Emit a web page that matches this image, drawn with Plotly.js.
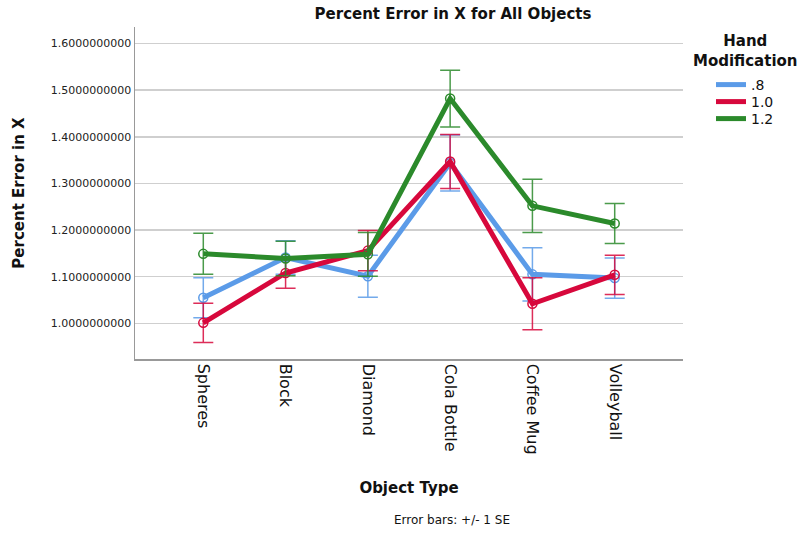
<!DOCTYPE html>
<html>
<head>
<meta charset="utf-8">
<script src="https://cdn.plot.ly/plotly-3.0.1.min.js"></script>
<style>
  html, body { margin: 0; padding: 0; background: #fff; }
  #chart { width: 801px; height: 533px; }
</style>
</head>
<body>
<div id="chart"></div>
<script>
// Object types on the x axis
const categories = ['Spheres', 'Block', 'Diamond', 'Cola Bottle', 'Coffee Mug', 'Volleyball'];

// Mean percent error in X and its standard error, per hand modification level
const mean08 = [1.055, 1.141, 1.101, 1.344, 1.105, 1.097];
const se08   = [0.043, 0.036, 0.045, 0.060, 0.057, 0.043];
const mean10 = [1.001, 1.108, 1.156, 1.347, 1.042, 1.104];
const se10   = [0.042, 0.033, 0.043, 0.058, 0.056, 0.042];
const mean12 = [1.149, 1.139, 1.148, 1.482, 1.252, 1.214];
const se12   = [0.044, 0.037, 0.047, 0.061, 0.057, 0.043];

const seriesNames = ['.8', '1.0', '1.2'];
const yTicks = [1.0, 1.1, 1.2, 1.3, 1.4, 1.5, 1.6];

const FONT = 'DejaVu Sans, Verdana, sans-serif';
const colors = ['#5b9be8', '#d7083c', '#2b8a2b'];
const barColors = ['rgba(91,155,232,0.85)', 'rgba(215,8,60,0.85)', 'rgba(43,138,43,0.85)'];
const legendIds = ['legend', 'legend2', 'legend3'];

// Each series: a thick line (shown in its own legend row) plus open markers with SE bars
function makeTraces(name, means, errs, i) {
  return [
    {
      type: 'scatter',
      mode: 'lines',
      name: name,
      legend: legendIds[i],
      x: categories,
      y: means,
      line: { color: colors[i], width: 5 },
      hoverinfo: 'skip'
    },
    {
      type: 'scatter',
      mode: 'markers',
      name: name,
      showlegend: false,
      x: categories,
      y: means,
      marker: { symbol: 'circle-open', size: 9, color: colors[i], line: { width: 1.5, color: colors[i] } },
      error_y: { type: 'data', array: errs, visible: true, color: barColors[i], thickness: 1.5, width: 10 }
    }
  ];
}

const data = [].concat(
  makeTraces(seriesNames[0], mean08, se08, 0),
  makeTraces(seriesNames[1], mean10, se10, 1),
  makeTraces(seriesNames[2], mean12, se12, 2)
);

function legendRow(yPx) {
  return {
    xref: 'container', x: 711 / 801, xanchor: 'left',
    yref: 'container', y: 1 - yPx / 533, yanchor: 'middle',
    font: { family: FONT, size: 14, color: '#111' },
    itemwidth: 30,
    bgcolor: 'rgba(0,0,0,0)',
    borderwidth: 0
  };
}

const layout = {
  width: 801,
  height: 533,
  paper_bgcolor: '#fff',
  plot_bgcolor: '#fff',
  margin: { l: 135, r: 118, t: 27, b: 174, autoexpand: false },
  font: { family: FONT, color: '#111' },
  title: {
    text: '<b>Percent Error in X for All Objects</b>',
    font: { family: FONT, size: 15, color: '#111' },
    xref: 'container', x: 453 / 801, xanchor: 'center',
    yref: 'container', y: 1 - 14 / 533, yanchor: 'middle'
  },
  xaxis: {
    type: 'category',
    range: [-0.83, 5.83],
    tickangle: 90,
    tickfont: { family: FONT, size: 16, color: '#111' },
    showgrid: false,
    zeroline: false,
    showline: true,
    linecolor: '#999',
    linewidth: 1.5,
    ticks: '',
    automargin: false,
    title: { text: '<b>Object Type</b>', font: { family: FONT, size: 15, color: '#111' }, standoff: 29 }
  },
  yaxis: {
    range: [0.9235, 1.6355],
    tickvals: yTicks,
    tickformat: '.10f',
    tickfont: { family: FONT, size: 11, color: '#222' },
    showgrid: true,
    gridcolor: '#cfcfcf',
    gridwidth: 1.5,
    zeroline: false,
    showline: true,
    linecolor: '#999',
    linewidth: 1.5,
    ticks: '',
    automargin: false,
    title: { text: '<b>Percent Error in X</b>', font: { family: FONT, size: 15, color: '#111' }, standoff: 22 }
  },
  showlegend: true,
  legend: legendRow(85),
  legend2: legendRow(102),
  legend3: legendRow(119),
  annotations: [
    {
      text: '<b>Hand<br>Modification</b>',
      xref: 'paper', yref: 'paper',
      x: (745 - 135) / 548, y: (359 - 51) / 332,
      xanchor: 'center', yanchor: 'middle',
      showarrow: false,
      font: { family: FONT, size: 15, color: '#111' }
    },
    {
      text: 'Error bars: +/- 1 SE',
      xref: 'paper', yref: 'paper',
      x: (452 - 135) / 548, y: (359 - 520) / 332,
      xanchor: 'center', yanchor: 'middle',
      showarrow: false,
      font: { family: FONT, size: 12, color: '#111' }
    }
  ]
};

Plotly.newPlot('chart', data, layout, { displayModeBar: false, staticPlot: true });
</script>
</body>
</html>
